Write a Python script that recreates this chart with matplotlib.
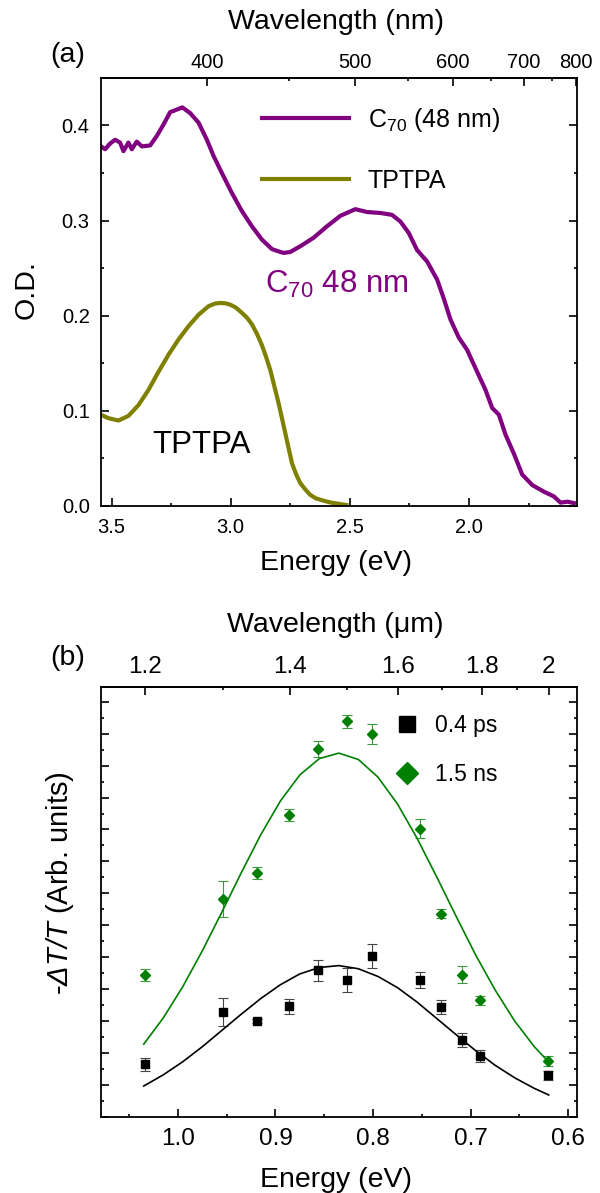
import numpy as np
import matplotlib
matplotlib.use('Agg')
import matplotlib.pyplot as plt
from matplotlib.lines import Line2D

plt.rcParams['font.family'] = ['Liberation Sans', 'DejaVu Sans']
plt.rcParams['mathtext.fontset'] = 'custom'
plt.rcParams['mathtext.rm'] = 'Liberation Sans'
plt.rcParams['mathtext.it'] = 'Liberation Sans:italic'
plt.rcParams['mathtext.sf'] = 'Liberation Sans:italic'
plt.rcParams['axes.linewidth'] = 1.3

# ---- (a) absorption spectra ----
c70_energy = [3.544, 3.527, 3.506, 3.485, 3.464, 3.450, 3.429, 3.415, 3.394, 3.373,
              3.338, 3.310, 3.282, 3.254, 3.233, 3.203, 3.170, 3.135, 3.100, 3.072,
              3.037, 2.995, 2.953, 2.911, 2.869, 2.827, 2.792, 2.778, 2.750, 2.736,
              2.708, 2.652, 2.596, 2.540, 2.477, 2.428, 2.372, 2.323, 2.288, 2.253,
              2.218, 2.176, 2.134, 2.106, 2.078, 2.043, 2.008, 1.966, 1.931, 1.903,
              1.875, 1.847, 1.812, 1.777, 1.735, 1.686, 1.644, 1.616, 1.587, 1.560]
c70_od = [0.378, 0.375, 0.381, 0.385, 0.382, 0.373, 0.382, 0.375, 0.383, 0.378,
          0.379, 0.389, 0.401, 0.414, 0.416, 0.419, 0.413, 0.403, 0.385, 0.368,
          0.350, 0.329, 0.310, 0.294, 0.280, 0.270, 0.267, 0.266, 0.267, 0.269,
          0.273, 0.282, 0.294, 0.305, 0.312, 0.309, 0.308, 0.306, 0.299, 0.287,
          0.269, 0.257, 0.238, 0.218, 0.196, 0.177, 0.164, 0.141, 0.122, 0.103,
          0.096, 0.075, 0.055, 0.033, 0.022, 0.015, 0.010, 0.0035, 0.0045, 0.003]

tptpa_energy = [3.544, 3.513, 3.471, 3.429, 3.387, 3.345, 3.303, 3.261, 3.219, 3.177,
                3.135, 3.093, 3.065, 3.044, 3.022, 3.002, 2.978, 2.953, 2.932, 2.911,
                2.890, 2.869, 2.852, 2.834, 2.799, 2.771, 2.743, 2.725, 2.708, 2.686,
                2.666, 2.643, 2.610, 2.579, 2.515]
tptpa_od = [0.0958, 0.0923, 0.0898, 0.0947, 0.106, 0.122, 0.141, 0.159, 0.175, 0.189,
            0.201, 0.210, 0.2128, 0.2134, 0.2130, 0.2116, 0.2085, 0.203, 0.198, 0.191,
            0.181, 0.169, 0.157, 0.143, 0.108, 0.0765, 0.045, 0.033, 0.024, 0.017,
            0.0116, 0.008, 0.0055, 0.0035, 0.001]

# ---- (b) transient spectra ----
pts_energy = [1.034, 0.954, 0.919, 0.886, 0.856, 0.827, 0.801, 0.752, 0.730, 0.709, 0.690, 0.621]
ps_signal = [1.65, 3.28, 3.00, 3.46, 4.59, 4.28, 5.05, 4.28, 3.44, 2.40, 1.91, 1.30]
ps_err = [0.20, 0.43, 0.06, 0.22, 0.33, 0.38, 0.38, 0.25, 0.23, 0.22, 0.20, 0.13]
ns_signal = [4.45, 6.83, 7.64, 9.46, 11.52, 12.39, 12.00, 9.02, 6.37, 4.46, 3.65, 1.75]
ns_err = [0.18, 0.56, 0.20, 0.18, 0.25, 0.20, 0.31, 0.30, 0.15, 0.27, 0.15, 0.15]

fit_energy = [1.035, 1.015, 0.995, 0.975, 0.955, 0.935, 0.915, 0.895, 0.875, 0.855, 0.835,
              0.815, 0.795, 0.775, 0.755, 0.735, 0.715, 0.695, 0.675, 0.655, 0.635, 0.620]
fit_ps = [0.97, 1.32, 1.73, 2.20, 2.71, 3.22, 3.71, 4.14, 4.48, 4.68, 4.74,
          4.64, 4.40, 4.05, 3.60, 3.09, 2.58, 2.08, 1.62, 1.23, 0.90, 0.69]
fit_ns = [2.28, 3.10, 4.08, 5.20, 6.41, 7.65, 8.84, 9.89, 10.71, 11.22, 11.39,
          11.19, 10.64, 9.80, 8.73, 7.53, 6.29, 5.08, 3.98, 3.01, 2.21, 1.72]

purple = '#800080'
olive = '#808000'
green = '#008000'

fig = plt.figure(figsize=(6, 11.93), dpi=100)
ax1 = fig.add_axes([0.168, 0.5759, 0.7937, 0.3588])
ax2 = fig.add_axes([0.168, 0.0637, 0.7937, 0.3607])


def ev_to_nm(e):
    return 1239.84 / np.asarray(e, dtype=float)


def ev_to_um(e):
    return 1.23984 / np.asarray(e, dtype=float)


# panel (a)
ax1.plot(c70_energy, c70_od, color=purple, lw=3, label='C$_{70}$ (48 nm)')
ax1.plot(tptpa_energy, tptpa_od, color=olive, lw=3, label='TPTPA')
ax1.set_xlim(3.545, 1.547)
ax1.set_ylim(0, 0.45)
ax1.set_xticks([3.5, 3.0, 2.5, 2.0])
ax1.set_xticks([3.25, 2.75, 2.25, 1.75], minor=True)
ax1.set_xticklabels(['3.5', '3.0', '2.5', '2.0'])
ax1.set_yticks([0.0, 0.1, 0.2, 0.3, 0.4])
ax1.set_yticks([0.05, 0.15, 0.25, 0.35], minor=True)
ax1.set_yticklabels(['0.0', '0.1', '0.2', '0.3', '0.4'])
ax1.tick_params(which='both', direction='in', right=True, top=False, width=1.2)
ax1.tick_params(which='major', length=5.5, labelsize=14.5)
ax1.tick_params(which='minor', length=2.5)
ax1.tick_params(axis='x', pad=9)
ax1.tick_params(axis='y', pad=8)
ax1.set_xlabel('Energy (eV)', fontsize=20.5)
ax1.xaxis.set_label_coords(0.493, -0.104)
ax1.set_ylabel('O.D.', fontsize=20.5)
ax1.yaxis.set_label_coords(-0.128, 0.505)

top1 = ax1.secondary_xaxis('top', functions=(ev_to_nm, ev_to_nm))
top1.set_xticks([400, 500, 600, 700, 800])
top1.set_xticks([450, 550, 650, 750], minor=True)
top1.set_xticklabels(['400', '500', '600', '700', '800'])
top1.tick_params(which='both', direction='in', width=1.2, pad=4)
top1.tick_params(which='major', length=5.5, labelsize=14.5)
top1.tick_params(which='minor', length=2.5)
ax1.text(0.493, 1.1145, 'Wavelength (nm)', transform=ax1.transAxes, fontsize=20.5,
         ha='center', va='baseline')

ax1.text(2.855, 0.224, 'C$_{70}$ 48 nm', color=purple, fontsize=22.5, va='baseline')
ax1.text(3.329, 0.0554, 'TPTPA', color='black', fontsize=22.5, va='baseline')
ax1.legend(loc='upper left', bbox_to_anchor=(0.3375, 0.935), frameon=False, fontsize=18,
           handlelength=3.5, handletextpad=0.75, labelspacing=1.42, borderpad=0, borderaxespad=0)

# panel (b)
ax2.errorbar(pts_energy, ns_signal, yerr=ns_err, fmt='D', color=green, ms=5.5,
             ecolor='#3c9a3c', elinewidth=0.8, capsize=3.5, capthick=0.8)
ax2.errorbar(pts_energy, ps_signal, yerr=ps_err, fmt='s', color='black', ms=5.5,
             ecolor='#444444', elinewidth=0.8, capsize=3.5, capthick=0.8)
ax2.plot(fit_energy, fit_ns, color=green, lw=1.2)
ax2.plot(fit_energy, fit_ps, color='black', lw=1.2)
ax2.set_xlim(1.079, 0.591)
ax2.set_ylim(0, 13.47)
ax2.set_xticks([1.0, 0.9, 0.8, 0.7, 0.6])
ax2.set_xticks([1.05, 0.95, 0.85, 0.75, 0.65], minor=True)
ax2.set_xticklabels(['1.0', '0.9', '0.8', '0.7', '0.6'])
ax2.set_yticks(np.arange(0, 14))
ax2.set_yticks(np.arange(0.5, 13.5, 1.0), minor=True)
ax2.tick_params(which='both', direction='in', right=True, top=False, labelleft=False, width=1.2)
ax2.tick_params(which='major', length=5.5, labelsize=17.5)
ax2.tick_params(which='minor', length=2.5)
ax2.tick_params(axis='x', pad=8)
ax2.set_xlabel('Energy (eV)', fontsize=20.5)
ax2.xaxis.set_label_coords(0.493, -0.1155)
# sf font is mapped to italic so the capital Delta is slanted too
ax2.set_ylabel('-$\\mathsf{\u0394T/T}$ (Arb. units)', fontsize=21)
ax2.yaxis.set_label_coords(-0.052, 0.544)

top2 = ax2.secondary_xaxis('top', functions=(ev_to_um, ev_to_um))
top2.set_xticks([1.2, 1.4, 1.6, 1.8, 2.0])
top2.set_xticks([1.3, 1.5, 1.7, 1.9], minor=True)
top2.set_xticklabels(['1.2', '1.4', '1.6', '1.8', '2'])
top2.tick_params(which='both', direction='in', width=1.2, pad=6.5)
top2.tick_params(which='major', length=5.5, labelsize=17.5)
top2.tick_params(which='minor', length=2.5)
ax2.text(0.493, 1.128, 'Wavelength (\u03bcm)', transform=ax2.transAxes, fontsize=20.5,
         ha='center', va='baseline')

handles = [Line2D([], [], marker='s', ls='none', color='black', ms=11.5),
           Line2D([], [], marker='D', ls='none', color=green, ms=11.5)]
ax2.legend(handles, ['0.4 ps', '1.5 ns'], loc='upper left', bbox_to_anchor=(0.618, 0.937),
           frameon=False, fontsize=16.5, handlelength=1.0, handletextpad=0.74,
           labelspacing=1.15, borderpad=0, borderaxespad=0)

fig.text(68 / 600, 1 - 55 / 1193, '(a)', fontsize=20.5, ha='center', va='center')
fig.text(68 / 600, 1 - 658 / 1193, '(b)', fontsize=20.5, ha='center', va='center')

fig.savefig('out.png', dpi=100)
